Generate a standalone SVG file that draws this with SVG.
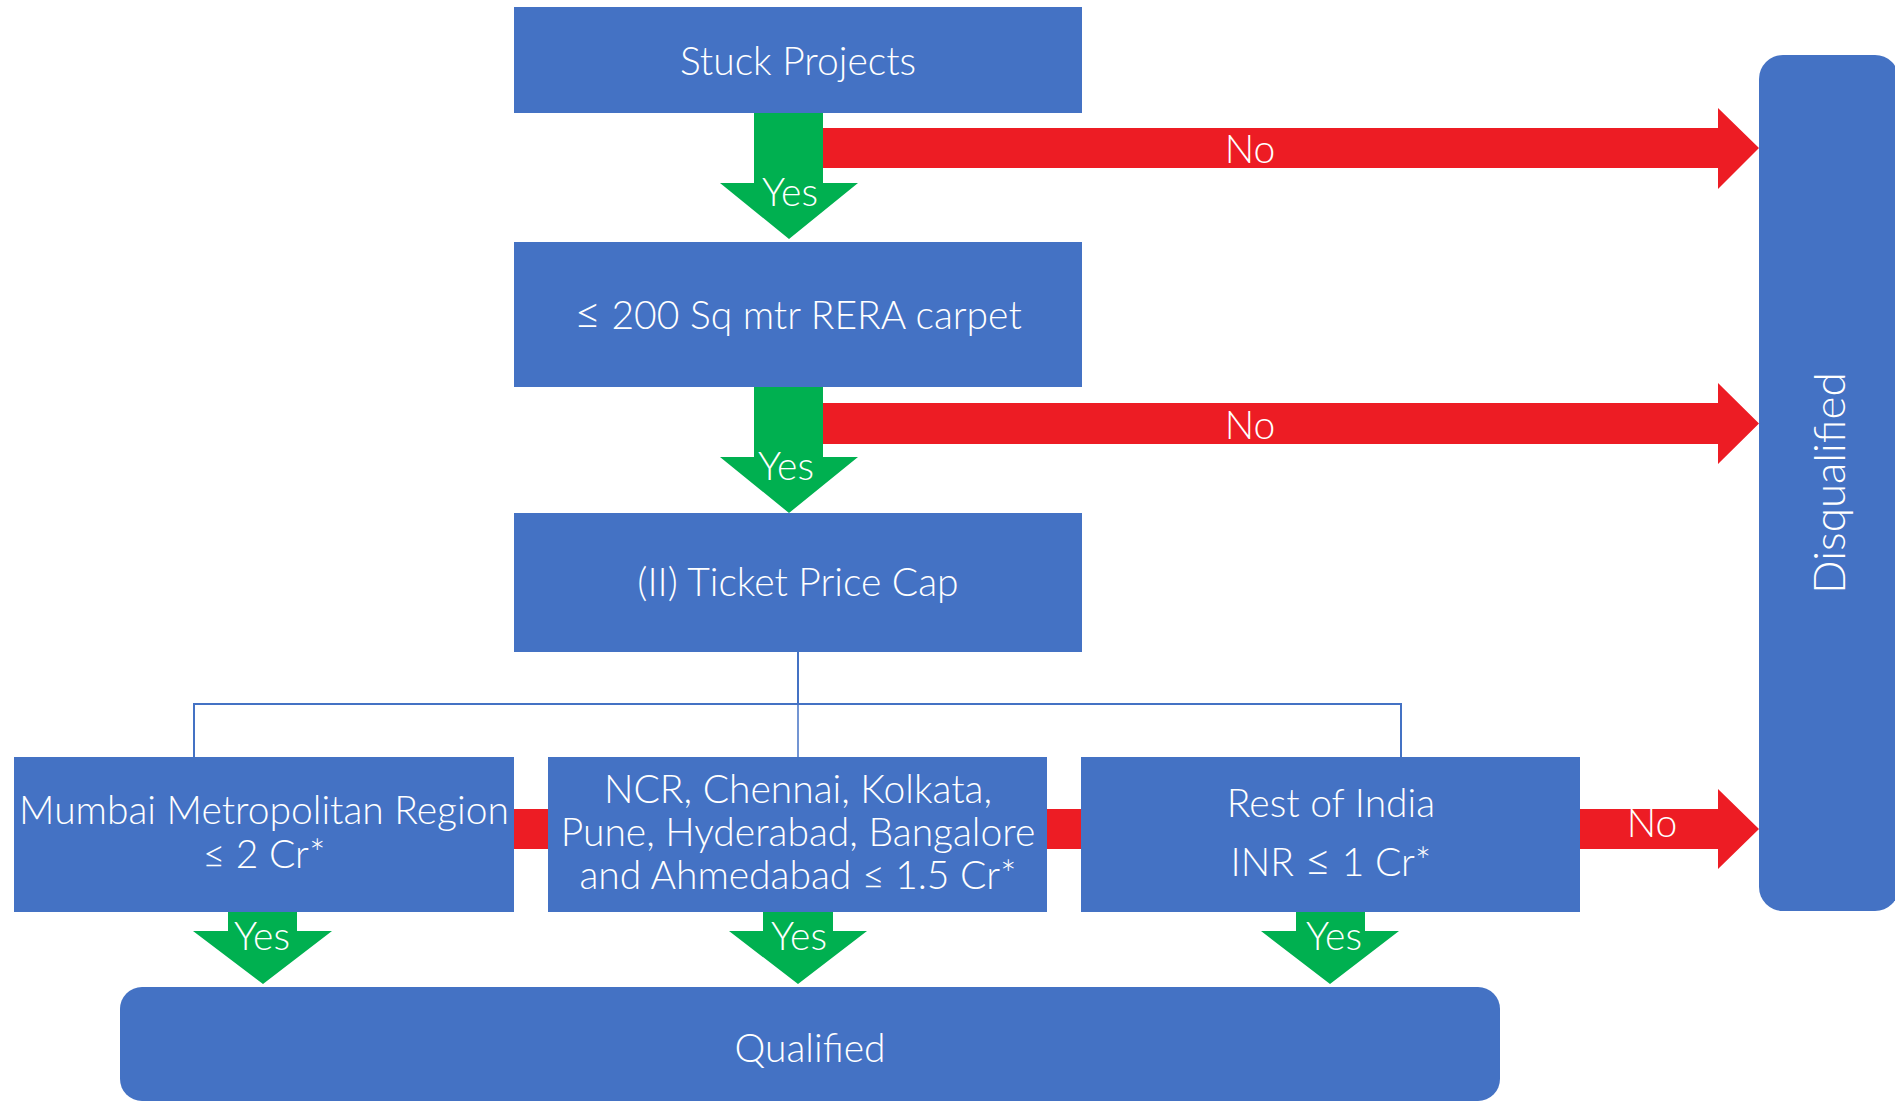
<svg xmlns="http://www.w3.org/2000/svg" width="1895" height="1102" viewBox="0 0 1895 1102">
<style>
.box{fill:#4472C4}
.g{fill:#00B050}
.r{fill:#ED1C24}
.t{font-family:Lato,"Liberation Sans",sans-serif;font-weight:300;fill:#fff;font-size:39px;text-anchor:middle}
.le{font-size:46px}
.ln{fill:none;stroke:#4472C4;stroke-width:2}
</style>
<rect width="1895" height="1102" fill="#fff"/>
<g id="connectors">
  <polygon class="r" points="823,128 1718,128 1718,108 1759,148 1718,189 1718,168 823,168"/>
  <polygon class="r" points="823,403 1718,403 1718,383 1759,423.5 1718,464 1718,444 823,444"/>
  <polygon class="r" points="500,809 1718,809 1718,789 1759,829 1718,869 1718,849 500,849"/>
  <polygon class="g" points="754,113 823,113 823,183 858,183 789,239 720,183 754,183"/>
  <polygon class="g" points="754,387 823,387 823,457 858,457 789,513 720,457 754,457"/>
  <polygon class="g" points="228,912 297,912 297,931 332,931 263,984 193,931 228,931"/>
  <polygon class="g" points="763,912 833,912 833,931 867,931 798,984 729,931 763,931"/>
  <polygon class="g" points="1296,912 1365,912 1365,931 1399,931 1330,984 1261,931 1296,931"/>
  <path class="ln" d="M798,652 V704 M194,757 V704 H1401 V757"/>
  <path class="ln" d="M798,704 V757" style="stroke-width:1.5"/>
  <text class="t" x="1250" y="163">No</text>
  <text class="t" x="1250" y="439">No</text>
  <text class="t" x="1652" y="837">No</text>
  <text class="t" x="790" y="206">Yes</text>
  <text class="t" x="786" y="480">Yes</text>
  <text class="t" x="262" y="950">Yes</text>
  <text class="t" x="799" y="950">Yes</text>
  <text class="t" x="1334" y="950">Yes</text>
</g>
<g id="stuck">
  <rect class="box" x="514" y="7" width="568" height="106"/>
  <text class="t" x="798" y="75">Stuck Projects</text>
</g>
<g id="carpet">
  <rect class="box" x="514" y="242" width="568" height="145"/>
  <text class="t" x="798" y="329"><tspan class="le">≤</tspan> 200 Sq mtr RERA carpet</text>
</g>
<g id="ticket">
  <rect class="box" x="514" y="513" width="568" height="139"/>
  <text class="t" x="798" y="596">(II) Ticket Price Cap</text>
</g>
<g id="mumbai">
  <rect class="box" x="14" y="757" width="500" height="155"/>
  <text class="t" x="264" y="824">Mumbai Metropolitan Region</text>
  <text class="t" x="264" y="868">≤ 2 Cr*</text>
</g>
<g id="ncr">
  <rect class="box" x="548" y="757" width="499" height="155"/>
  <text class="t" x="798" y="803">NCR, Chennai, Kolkata,</text>
  <text class="t" x="798" y="846">Pune, Hyderabad, Bangalore</text>
  <text class="t" x="798" y="889">and Ahmedabad ≤ 1.5 Cr*</text>
</g>
<g id="rest">
  <rect class="box" x="1081" y="757" width="499" height="155"/>
  <text class="t" x="1331" y="817">Rest of India</text>
  <text class="t" x="1331" y="876">INR <tspan class="le">≤</tspan> 1 Cr*</text>
</g>
<g id="disqualified">
  <rect class="box" x="1759" y="55" width="140" height="856" rx="24"/>
  <text class="t" style="font-size:44px" transform="translate(1845,483) rotate(-90)">Disqualified</text>
</g>
<g id="qualified">
  <rect class="box" x="120" y="987" width="1380" height="114" rx="22"/>
  <text class="t" x="810" y="1062">Qualified</text>
</g>
</svg>
